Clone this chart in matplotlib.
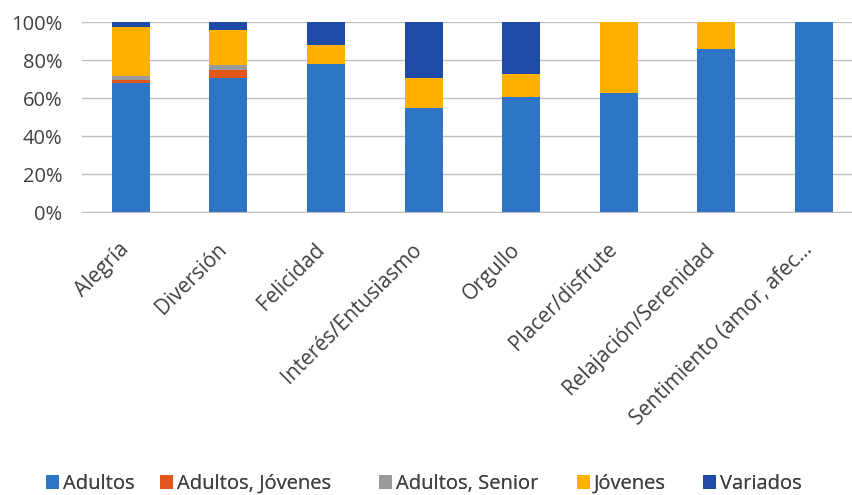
import matplotlib
matplotlib.use("Agg")
import matplotlib.pyplot as plt
import matplotlib.transforms as mtransforms
import numpy as np

categories = ["Alegría", "Diversión", "Felicidad", "Interés/Entusiasmo", "Orgullo",
              "Placer/disfrute", "Relajación/Serenidad", "Sentimiento (amor, afec..."]
series_names = ["Adultos", "Adultos, Jóvenes", "Adultos, Senior", "Jóvenes", "Variados"]
adultos = [68.0, 70.7, 78.0, 54.6, 60.7, 62.5, 85.6, 100.0]
adultos_jovenes = [1.5, 4.0, 0.0, 0.0, 0.0, 0.0, 0.0, 0.0]
adultos_senior = [2.3, 2.7, 0.0, 0.0, 0.0, 0.0, 0.0, 0.0]
jovenes = [25.4, 18.4, 10.0, 15.8, 11.9, 37.5, 14.4, 0.0]
variados = [2.8, 4.2, 12.0, 29.6, 27.4, 0.0, 0.0, 0.0]
yticks = [0, 20, 40, 60, 80, 100]

colors = ["#2E75C6", "#E0561B", "#9A9A9A", "#FFB000", "#1F4BA8"]
series = [adultos, adultos_jovenes, adultos_senior, jovenes, variados]

plt.rcParams['font.family'] = ['Open Sans', 'DejaVu Sans']
fig = plt.figure(figsize=(8.53, 4.95), dpi=100)
ax = fig.add_axes([82/853, 1 - 212/495, (853-82)/853, 190/495])

x = np.arange(len(categories))
bottom = np.zeros(len(categories))
handles = []
for name, vals, c in zip(series_names, series, colors):
    v = np.array(vals)
    b = ax.bar(x, v, width=0.39, bottom=bottom, color=c, label=name, zorder=3)
    handles.append(b)
    bottom += v

ax.set_xlim(-0.5, 7.4)
ax.set_ylim(0, 100)
ax.set_yticks(yticks)
ax.set_yticklabels([f"{t}%" for t in yticks], fontsize=14.5, color="#404040")
ax.yaxis.grid(True, color="#BFBFBF", linewidth=1, zorder=0)
ax.set_axisbelow(True)
ax.tick_params(axis='y', length=0, pad=14)
ax.tick_params(axis='x', length=0, pad=16)
ax.set_xticks(x)
ax.set_xticklabels(categories, rotation=45, ha='right', rotation_mode='anchor',
                   fontsize=15, color="#404040")
offset = mtransforms.ScaledTranslation(-0.12, -0.05, fig.dpi_scale_trans)
for lbl in ax.get_xticklabels():
    lbl.set_transform(lbl.get_transform() + offset)
for s in ["top", "right", "left"]:
    ax.spines[s].set_visible(False)
ax.spines["bottom"].set_color("#BFBFBF")

leg_x = [46, 160, 379, 577, 703]
for h, name, lx in zip(handles, series_names, leg_x):
    lg = fig.legend(handles=[h], labels=[name], loc='center left',
                    bbox_to_anchor=(lx/853, 1 - 484/495), frameon=False, fontsize=14.5,
                    handlelength=0.65, handleheight=0.75, handletextpad=0.2,
                    borderpad=0, borderaxespad=0, labelcolor="#404040")
    fig.add_artist(lg)

fig.savefig("out.png", dpi=100)
